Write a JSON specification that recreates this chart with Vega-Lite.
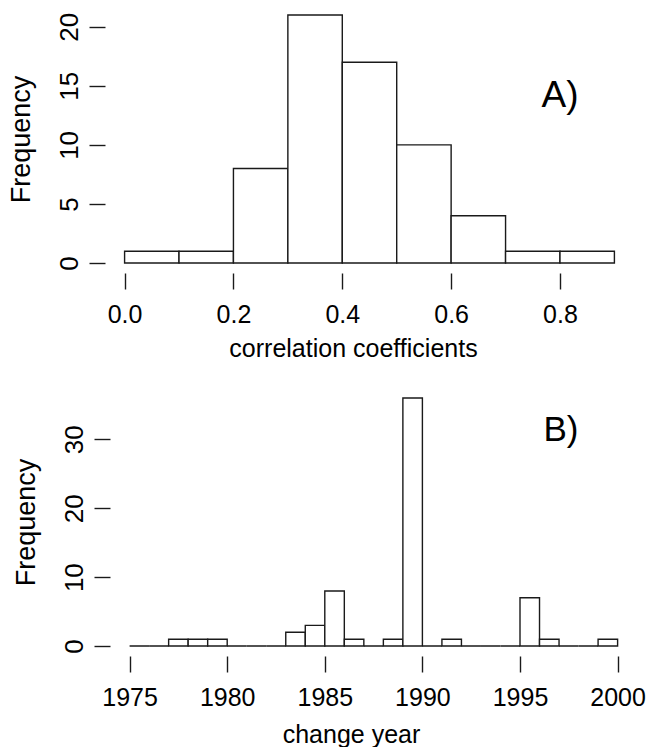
{
  "$schema": "https://vega.github.io/schema/vega-lite/v6.json",
  "padding": {"left": 7, "top": 5, "right": 0, "bottom": 0},
  "spacing": 27,
  "config": {
    "view": {"stroke": null},
    "font": "Liberation Sans",
    "axis": {
      "domain": false,
      "grid": false,
      "tickColor": "#1a1a1a",
      "tickWidth": 1.4,
      "tickSize": 16,
      "labelFontSize": 25,
      "labelColor": "#000",
      "labelFlush": false,
      "labelOverlap": false,
      "titleFontSize": 25,
      "titleFontWeight": "normal",
      "titleColor": "#000"
    }
  },
  "vconcat": [
    {
      "width": 529,
      "height": 268,
      "layer": [
        {
          "data": {"values": [
            {"lo": 0.0, "hi": 0.1, "count": 1},
            {"lo": 0.1, "hi": 0.2, "count": 1},
            {"lo": 0.2, "hi": 0.3, "count": 8},
            {"lo": 0.3, "hi": 0.4, "count": 21},
            {"lo": 0.4, "hi": 0.5, "count": 17},
            {"lo": 0.5, "hi": 0.6, "count": 10},
            {"lo": 0.6, "hi": 0.7, "count": 4},
            {"lo": 0.7, "hi": 0.8, "count": 1},
            {"lo": 0.8, "hi": 0.9, "count": 1}
          ]},
          "mark": {"type": "rect", "fill": "#fff", "stroke": "#1a1a1a", "strokeWidth": 1.4},
          "encoding": {
            "x": {"field": "lo", "type": "quantitative",
              "scale": {"domain": [-0.036, 0.936], "nice": false, "zero": false},
              "axis": {"values": [0, 0.2, 0.4, 0.6, 0.8], "format": ".1f", "labelPadding": 13, "labelBaseline": "top",
                "title": "correlation coefficients", "titleX": 248, "titleY": 83, "titleAlign": "center", "titleBaseline": "alphabetic"}},
            "x2": {"field": "hi"},
            "y": {"field": "count", "type": "quantitative",
              "scale": {"domain": [-0.84, 21.84], "nice": false, "zero": false},
              "axis": {"values": [0, 5, 10, 15, 20], "labelAngle": 270, "labelAlign": "center", "labelBaseline": "alphabetic", "labelPadding": 12, "labelFontSize": 26,
                "title": "Frequency", "titleFontSize": 27, "titleX": -76, "titleY": 134, "titleAngle": 270, "titleAlign": "center", "titleBaseline": "alphabetic"}},
            "y2": {"datum": 0}
          }
        },
        {
          "mark": {"type": "rule", "stroke": "#1a1a1a", "strokeWidth": 1.4},
          "encoding": {"x": {"datum": 0}, "x2": {"datum": 0.8}, "y": {"datum": -0.84}}
        },
        {
          "mark": {"type": "rule", "stroke": "#1a1a1a", "strokeWidth": 1.4},
          "encoding": {"x": {"datum": -0.036}, "y": {"datum": 0}, "y2": {"datum": 20}}
        },
        {
          "data": {"values": [{"label": "A)", "x": 0.8, "y": 13.2}]},
          "mark": {"type": "text", "fontSize": 37, "align": "center", "baseline": "alphabetic", "color": "#000"},
          "encoding": {"x": {"field": "x", "type": "quantitative"}, "y": {"field": "y", "type": "quantitative"}, "text": {"field": "label"}}
        }
      ]
    },
    {
      "width": 529,
      "height": 268,
      "layer": [
        {
          "data": {"values": [
            {"lo": 1975, "hi": 1976, "count": 0},
            {"lo": 1976, "hi": 1977, "count": 0},
            {"lo": 1977, "hi": 1978, "count": 1},
            {"lo": 1978, "hi": 1979, "count": 1},
            {"lo": 1979, "hi": 1980, "count": 1},
            {"lo": 1980, "hi": 1981, "count": 0},
            {"lo": 1981, "hi": 1982, "count": 0},
            {"lo": 1982, "hi": 1983, "count": 0},
            {"lo": 1983, "hi": 1984, "count": 2},
            {"lo": 1984, "hi": 1985, "count": 3},
            {"lo": 1985, "hi": 1986, "count": 8},
            {"lo": 1986, "hi": 1987, "count": 1},
            {"lo": 1987, "hi": 1988, "count": 0},
            {"lo": 1988, "hi": 1989, "count": 1},
            {"lo": 1989, "hi": 1990, "count": 36},
            {"lo": 1990, "hi": 1991, "count": 0},
            {"lo": 1991, "hi": 1992, "count": 1},
            {"lo": 1992, "hi": 1993, "count": 0},
            {"lo": 1993, "hi": 1994, "count": 0},
            {"lo": 1994, "hi": 1995, "count": 0},
            {"lo": 1995, "hi": 1996, "count": 7},
            {"lo": 1996, "hi": 1997, "count": 1},
            {"lo": 1997, "hi": 1998, "count": 0},
            {"lo": 1998, "hi": 1999, "count": 0},
            {"lo": 1999, "hi": 2000, "count": 1}
          ]},
          "mark": {"type": "rect", "fill": "#fff", "stroke": "#1a1a1a", "strokeWidth": 1.4},
          "encoding": {
            "x": {"field": "lo", "type": "quantitative",
              "scale": {"domain": [1973.74, 2000.84], "nice": false, "zero": false},
              "axis": {"values": [1975, 1980, 1985, 1990, 1995, 2000], "format": "d", "labelPadding": 13, "labelBaseline": "top",
                "title": "change year", "titleX": 246, "titleY": 86, "titleAlign": "center", "titleBaseline": "alphabetic"}},
            "x2": {"field": "hi"},
            "y": {"field": "count", "type": "quantitative",
              "scale": {"domain": [-1.44, 37.44], "nice": false, "zero": false},
              "axis": {"values": [0, 5, 10, 15, 20, 25, 30, 35], "labelExpr": "datum.value % 10 == 0 ? datum.label : ''",
                "offset": -5, "labelAngle": 270, "labelAlign": "center", "labelBaseline": "alphabetic", "labelPadding": 12, "labelFontSize": 26,
                "title": "Frequency", "titleFontSize": 27, "titleX": -76, "titleY": 134, "titleAngle": 270, "titleAlign": "center", "titleBaseline": "alphabetic"}},
            "y2": {"datum": 0}
          }
        },
        {
          "mark": {"type": "rule", "stroke": "#1a1a1a", "strokeWidth": 1.4},
          "encoding": {"x": {"datum": 1975}, "x2": {"datum": 2000}, "y": {"datum": -1.44}}
        },
        {
          "mark": {"type": "rule", "stroke": "#1a1a1a", "strokeWidth": 1.4},
          "encoding": {"x": {"datum": 1974}, "y": {"datum": 0}, "y2": {"datum": 35}}
        },
        {
          "data": {"values": [{"label": "B)", "x": 1997.1, "y": 29.7}]},
          "mark": {"type": "text", "fontSize": 35, "align": "center", "baseline": "alphabetic", "color": "#000"},
          "encoding": {"x": {"field": "x", "type": "quantitative"}, "y": {"field": "y", "type": "quantitative"}, "text": {"field": "label"}}
        }
      ]
    }
  ]
}
